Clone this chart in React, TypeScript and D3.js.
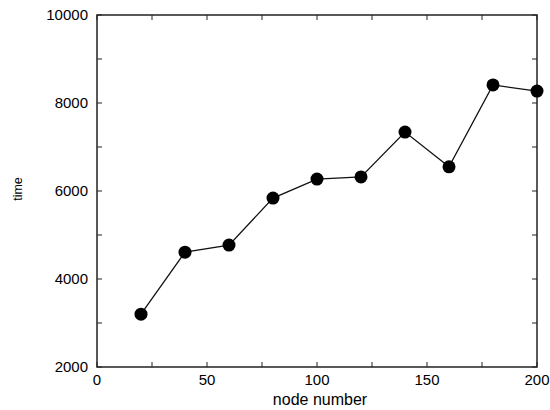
import { useEffect, useRef } from "react";
import * as d3 from "d3";

const nodeNumbers = [20, 40, 60, 80, 100, 120, 140, 160, 180, 200];
const times = [3200, 4610, 4770, 5840, 6270, 6320, 7340, 6550, 8410, 8270];
const xTicks = [0, 25, 50, 75, 100, 125, 150, 175, 200];
const xLabels = [0, 50, 100, 150, 200];
const yTicks = [2000, 3000, 4000, 5000, 6000, 7000, 8000, 9000, 10000];
const yLabels = [2000, 4000, 6000, 8000, 10000];

function App() {
  const ref = useRef<SVGSVGElement>(null);

  useEffect(() => {
    const width = 550;
    const height = 410;
    const margin = { top: 15, right: 13, bottom: 43, left: 97 };
    const svg = d3.select(ref.current);
    svg.selectAll("*").remove();

    const x = d3.scaleLinear().domain([0, 200]).range([margin.left, width - margin.right]);
    const y = d3.scaleLinear().domain([2000, 10000]).range([height - margin.bottom, margin.top]);
    const font = "'Liberation Sans', Arial, sans-serif";
    const tl = 5;

    const g = svg.append("g");

    // ticks on all four sides, pointing inward
    const ticks = g.append("g").attr("stroke", "#222").attr("stroke-width", 1);
    xTicks.forEach((t) => {
      ticks.append("line").attr("x1", x(t)).attr("x2", x(t)).attr("y1", y(2000)).attr("y2", y(2000) - tl);
      ticks.append("line").attr("x1", x(t)).attr("x2", x(t)).attr("y1", y(10000)).attr("y2", y(10000) + tl);
    });
    yTicks.forEach((t) => {
      ticks.append("line").attr("x1", x(0)).attr("x2", x(0) + tl).attr("y1", y(t)).attr("y2", y(t));
      ticks.append("line").attr("x1", x(200)).attr("x2", x(200) - tl).attr("y1", y(t)).attr("y2", y(t));
    });

    g.append("rect")
      .attr("x", x(0))
      .attr("y", y(10000))
      .attr("width", x(200) - x(0))
      .attr("height", y(2000) - y(10000))
      .attr("fill", "none")
      .attr("stroke", "#222")
      .attr("stroke-width", 1.5);

    g.selectAll(".xl")
      .data(xLabels)
      .enter()
      .append("text")
      .attr("x", (d) => x(d))
      .attr("y", y(2000) + 18)
      .attr("text-anchor", "middle")
      .attr("font-family", font)
      .attr("font-size", 15)
      .attr("fill", "#000")
      .text((d) => d);

    g.selectAll(".yl")
      .data(yLabels)
      .enter()
      .append("text")
      .attr("x", x(0) - 9)
      .attr("y", (d) => y(d) + 5)
      .attr("text-anchor", "end")
      .attr("font-family", font)
      .attr("font-size", 15)
      .attr("fill", "#000")
      .text((d) => d);

    g.append("text")
      .attr("x", 320)
      .attr("y", 405)
      .attr("text-anchor", "middle")
      .attr("font-family", font)
      .attr("font-size", 16)
      .text("node number");

    g.append("text")
      .attr("transform", "translate(22,189) rotate(-90)")
      .attr("text-anchor", "middle")
      .attr("font-family", font)
      .attr("font-size", 12.5)
      .text("time");

    const data = nodeNumbers.map((n, i) => [n, times[i]] as [number, number]);
    const line = d3
      .line<[number, number]>()
      .x((d) => x(d[0]))
      .y((d) => y(d[1]));

    g.append("path")
      .datum(data)
      .attr("d", line)
      .attr("fill", "none")
      .attr("stroke", "#111")
      .attr("stroke-width", 1.3);

    g.selectAll(".dot")
      .data(data)
      .enter()
      .append("circle")
      .attr("cx", (d) => x(d[0]))
      .attr("cy", (d) => y(d[1]))
      .attr("r", 6.5)
      .attr("fill", "#000");
  }, []);

  return (
    <svg
      ref={ref}
      width={550}
      height={410}
      style={{ position: "absolute", left: 0, top: 0, background: "#fff" }}
    ></svg>
  );
}

export default App;
